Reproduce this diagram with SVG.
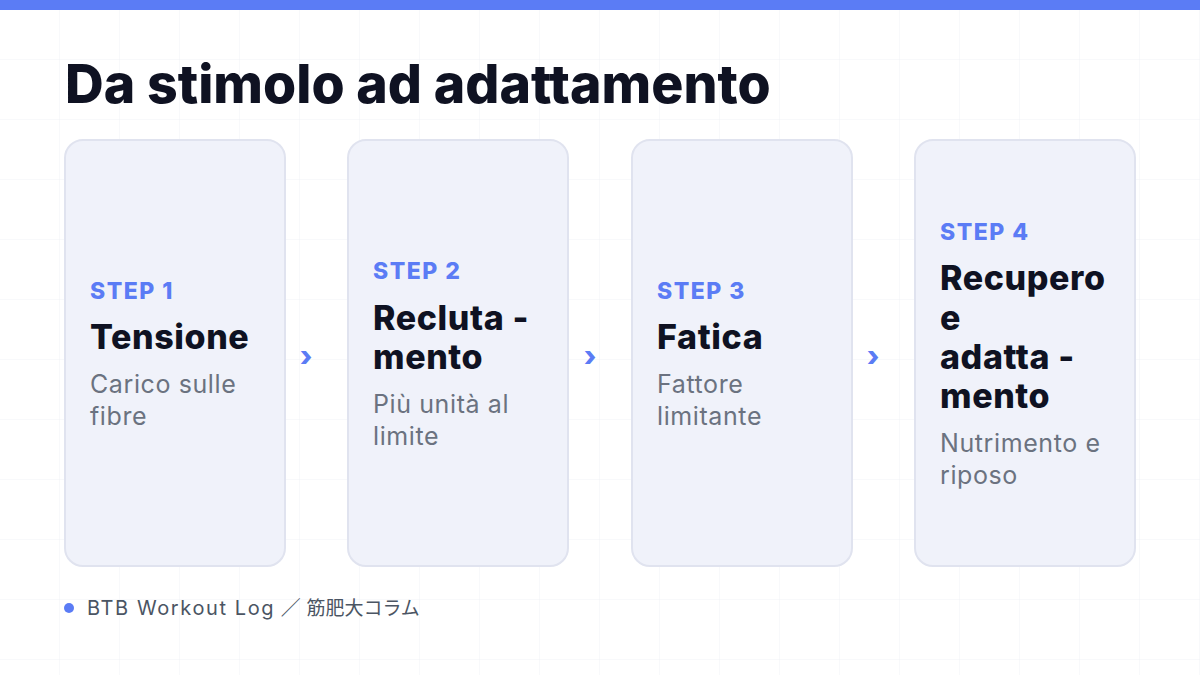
<svg xmlns="http://www.w3.org/2000/svg" width="1200" height="675" viewBox="0 0 1200 675">
<defs>
<pattern id="grid" width="60" height="60" patternUnits="userSpaceOnUse">
<path d="M60 0V60M0 60H60" fill="none" stroke="#f1f2f6" stroke-width="1"/>
</pattern>
<style>
.card{fill:#f0f2fa;stroke:#e0e3ef;stroke-width:2}
.step{font-family:Inter,"Liberation Sans",sans-serif;font-weight:800;font-size:23px;letter-spacing:1.5px;fill:#5b7cf5}
.title{font-family:Inter,"Liberation Sans",sans-serif;font-weight:800;font-size:34px;letter-spacing:0.6px;fill:#0f1222}
.desc{font-family:Inter,"Liberation Sans",sans-serif;font-size:25px;letter-spacing:0.6px;fill:#6b7280}
.arrow{font-family:Inter,"Liberation Sans",sans-serif;font-weight:800;font-size:28px;fill:#5b7cf5}
</style>
</defs>
<rect width="1200" height="675" fill="#ffffff"/>
<rect width="1200" height="675" fill="url(#grid)"/>
<rect width="1200" height="10" fill="#5b7cf5"/>
<text x="65" y="103" font-family="Inter,'Liberation Sans',sans-serif" font-weight="800" font-size="53.6" fill="#0f1222">Da stimolo ad adattamento</text>
<g id="step1">
<rect class="card" x="65" y="140" width="220" height="426" rx="18"/>
<text class="step" x="90" y="299">STEP 1</text>
<text class="title" x="90" y="349">Tensione</text>
<text class="desc" x="90" y="393">Carico sulle</text>
<text class="desc" x="90" y="425">fibre</text>
</g>
<g id="step2">
<rect class="card" x="348" y="140" width="220" height="426" rx="18"/>
<text class="step" x="373" y="279">STEP 2</text>
<text class="title" x="373" y="330">Recluta -</text>
<text class="title" x="373" y="369">mento</text>
<text class="desc" x="373" y="413">Più unità al</text>
<text class="desc" x="373" y="445">limite</text>
</g>
<g id="step3">
<rect class="card" x="632" y="140" width="220" height="426" rx="18"/>
<text class="step" x="657" y="299">STEP 3</text>
<text class="title" x="657" y="349">Fatica</text>
<text class="desc" x="657" y="393">Fattore</text>
<text class="desc" x="657" y="425">limitante</text>
</g>
<g id="step4">
<rect class="card" x="915" y="140" width="220" height="426" rx="18"/>
<text class="step" x="940" y="240">STEP 4</text>
<text class="title" x="940" y="290">Recupero</text>
<text class="title" x="940" y="330">e</text>
<text class="title" x="940" y="369">adatta -</text>
<text class="title" x="940" y="408">mento</text>
<text class="desc" x="940" y="452">Nutrimento e</text>
<text class="desc" x="940" y="484">riposo</text>
</g>
<g id="connectors">
<text class="arrow" x="306" y="366" text-anchor="middle">›</text>
<text class="arrow" x="590" y="366" text-anchor="middle">›</text>
<text class="arrow" x="873" y="366" text-anchor="middle">›</text>
</g>
<g id="footer">
<circle cx="69" cy="608" r="5" fill="#5b7cf5"/>
<text x="87" y="615" font-family="Inter,'Liberation Sans','Noto Sans CJK JP',sans-serif" font-size="20" fill="#4b5563"><tspan letter-spacing="1.6">BTB Workout Log</tspan><tspan> ／ </tspan><tspan font-size="19" font-family="'Noto Sans CJK JP',sans-serif">筋肥大コラム</tspan></text>
</g>
</svg>
